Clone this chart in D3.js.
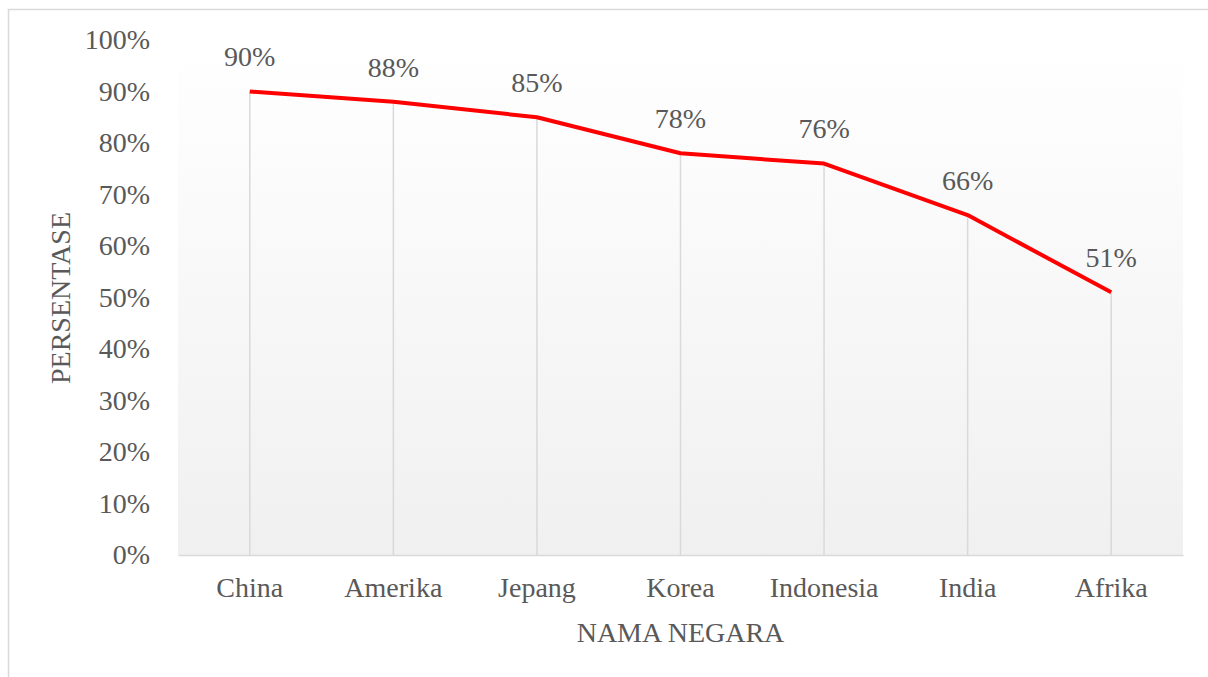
<!DOCTYPE html>
<html>
<head>
<meta charset="utf-8">
<script src="https://cdn.jsdelivr.net/npm/d3@7"></script>
<style>
  body { margin: 0; background: #fff; }
</style>
</head>
<body>
<div id="chart-container"></div>
<script>
// data
const countries = ["China", "Amerika", "Jepang", "Korea", "Indonesia", "India", "Afrika"];
const percentages = [90, 88, 85, 78, 76, 66, 51];
const yTicks = [0, 10, 20, 30, 40, 50, 60, 70, 80, 90, 100];

const FONT = "'Liberation Serif', 'Times New Roman', serif";
const W = 1208, H = 677;
const margin = { top: 40, right: 25, bottom: 122, left: 178 };
const width = W - margin.left - margin.right;
const height = H - margin.top - margin.bottom;

const svgRoot = d3.select("#chart-container")
  .append("svg")
  .attr("width", W)
  .attr("height", H);

// chart border (cut off at right / bottom)
svgRoot.append("rect")
  .attr("x", 8.5)
  .attr("y", 9.5)
  .attr("width", W + 20)
  .attr("height", H + 20)
  .attr("fill", "none")
  .attr("stroke", "#d9d9d9")
  .attr("stroke-width", 1.5);

// plot area gradient
const grad = svgRoot.append("defs").append("linearGradient")
  .attr("id", "plotBg")
  .attr("x1", 0).attr("y1", 0).attr("x2", 0).attr("y2", 1);
grad.append("stop").attr("offset", "0%").attr("stop-color", "#ffffff");
grad.append("stop").attr("offset", "100%").attr("stop-color", "#f0f0f0");

const svg = svgRoot.append("g")
  .attr("transform", `translate(${margin.left}, ${margin.top})`);

const x = d3.scaleBand().domain(countries).range([0, width]);
const y = d3.scaleLinear().domain([0, 100]).range([height, 0]);

svg.append("rect")
  .attr("width", width)
  .attr("height", height)
  .attr("fill", "url(#plotBg)");

//x axis
svg.append("g")
  .attr("transform", `translate(0, ${height})`)
  .call(d3.axisBottom(x).tickSize(0).tickPadding(22))
  .call((g) => g.select(".domain").attr("stroke", "#d9d9d9").attr("stroke-width", 1.5))
  .selectAll(".tick text")
  .style("font-size", "28px")
  .style("font-family", FONT)
  .attr("fill", "#595959");

//y axis
svg.append("g")
  .call(d3.axisLeft(y).tickValues(yTicks).tickSize(0).tickPadding(28).tickFormat((d) => d + "%"))
  .call((g) => g.select(".domain").remove())
  .selectAll(".tick text")
  .style("font-size", "28px")
  .style("font-family", FONT)
  .attr("fill", "#595959");

const cx = (d) => x(d) + x.bandwidth() / 2;

// drop lines
svg.selectAll(".drop")
  .data(countries)
  .join("line")
  .attr("class", "drop")
  .attr("x1", cx)
  .attr("x2", cx)
  .attr("y1", (d, i) => y(percentages[i]))
  .attr("y2", height)
  .attr("stroke", "#d9d9d9")
  .attr("stroke-width", 1.5);

// line
const line = d3.line()
  .x((d, i) => cx(countries[i]))
  .y((d) => y(d));

svg.append("path")
  .datum(percentages)
  .attr("fill", "none")
  .attr("stroke", "#ff0000")
  .attr("stroke-width", 4)
  .attr("stroke-linejoin", "round")
  .attr("d", line);

// data labels
svg.selectAll(".lbl")
  .data(percentages)
  .join("text")
  .attr("class", "lbl")
  .attr("x", (d, i) => cx(countries[i]))
  .attr("y", (d) => y(d) - 35)
  .attr("dy", "0.35em")
  .attr("text-anchor", "middle")
  .style("font-size", "28px")
  .style("font-family", FONT)
  .attr("fill", "#595959")
  .text((d) => d + "%");

// axis titles
svgRoot.append("text")
  .attr("transform", "rotate(-90)")
  .attr("x", -298)
  .attr("y", 60)
  .attr("dy", "0.35em")
  .attr("text-anchor", "middle")
  .style("font-size", "28px")
  .style("font-family", FONT)
  .attr("fill", "#595959")
  .text("PERSENTASE");

svgRoot.append("text")
  .attr("x", margin.left + width / 2)
  .attr("y", 632)
  .attr("dy", "0.35em")
  .attr("text-anchor", "middle")
  .style("font-size", "28px")
  .style("font-family", FONT)
  .attr("fill", "#595959")
  .text("NAMA NEGARA");
</script>
</body>
</html>
